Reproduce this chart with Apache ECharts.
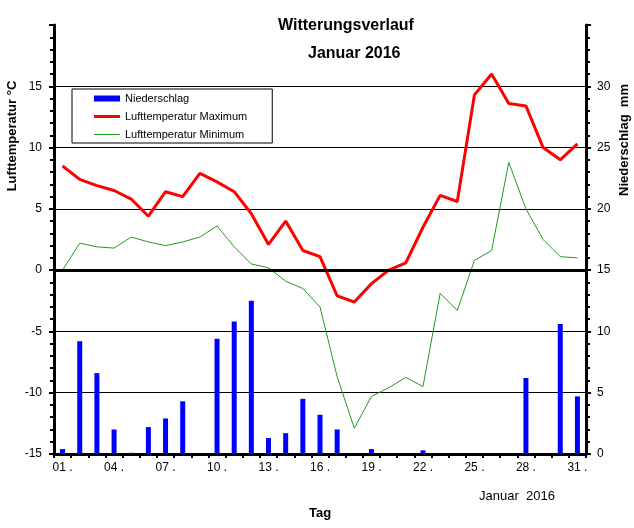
<!DOCTYPE html>
<html>
<head>
<meta charset="utf-8">
<script src="https://cdn.jsdelivr.net/npm/echarts@6/dist/echarts.min.js"></script>
<style>
  html, body { margin: 0; padding: 0; background: #fff; }
  #chart { width: 634px; height: 528px; }
</style>
</head>
<body>
<div id="chart"></div>
<script>
// Tage im Januar 2016
var days = ['01','02','03','04','05','06','07','08','09','10','11','12','13','14','15','16',
            '17','18','19','20','21','22','23','24','25','26','27','28','29','30','31'];

// Niederschlag in mm (rechte Achse)
var niederschlag = [0.4, 9.2, 6.6, 2.0, 0.1, 2.2, 2.9, 4.3, 0, 9.4, 10.8, 12.5, 1.3, 1.7, 4.5, 3.2,
                    2.0, 0, 0.4, 0, 0, 0.3, 0, 0, 0, 0, 0, 6.2, 0, 10.6, 4.7];

// Lufttemperatur in °C (linke Achse)
var tempMax = [8.5, 7.4, 6.9, 6.5, 5.8, 4.4, 6.4, 6.0, 7.9, 7.2, 6.4, 4.6, 2.1, 4.0, 1.6, 1.1,
               -2.1, -2.6, -1.1, 0.0, 0.6, 3.5, 6.1, 5.6, 14.3, 16.0, 13.6, 13.4, 10.0, 9.0, 10.3];
var tempMin = [0.0, 2.2, 1.9, 1.8, 2.7, 2.3, 2.0, 2.3, 2.7, 3.6, 1.9, 0.5, 0.2, -0.9, -1.5, -3.0,
               -8.7, -12.9, -10.3, -9.6, -8.75, -9.5, -1.9, -3.3, 0.8, 1.6, 8.8, 5.0, 2.5, 1.1, 1.0];

var chart = echarts.init(document.getElementById('chart'));

var txtFont = '"Liberation Sans", Arial, sans-serif';

var option = {
  animation: false,
  textStyle: { fontFamily: txtFont },
  grid: { left: 54, right: 48, top: 25, bottom: 74 },
  legend: {
    orient: 'vertical',
    left: 72,
    top: 89,
    padding: [4, 25, 3, 22],
    itemWidth: 26,
    itemHeight: 14,
    itemGap: 7,
    borderColor: '#000',
    borderWidth: 1,
    textStyle: { fontSize: 11, color: '#000', fontFamily: txtFont },
    data: [
      { name: 'Niederschlag', icon: 'path://M0,0 L26,0 L26,6 L0,6 Z' },
      { name: 'Lufttemperatur Maximum', icon: 'path://M0,0 L26,0 L26,3 L0,3 Z' },
      { name: 'Lufttemperatur Minimum', icon: 'path://M0,0 L26,0 L26,1 L0,1 Z' }
    ]
  },
  xAxis: {
    type: 'category',
    data: days,
    boundaryGap: true,
    axisLine: { onZero: false, lineStyle: { color: '#000', width: 3 } },
    axisTick: { show: true, interval: 0, length: 4, lineStyle: { color: '#000', width: 2 } },
    axisLabel: {
      interval: 2,
      color: '#000',
      fontSize: 12,
      margin: 8,
      formatter: function (v) { return v + ' .'; }
    },
    splitLine: { show: false }
  },
  yAxis: [
    {
      type: 'value',
      min: -15,
      max: 20,
      interval: 5,
      axisLine: { show: true, lineStyle: { color: '#000', width: 3 } },
      axisTick: { show: true, length: 5, lineStyle: { color: '#000', width: 2 } },
      minorTick: { show: true, splitNumber: 5, length: 4, lineStyle: { color: '#000', width: 2 } },
      axisLabel: { color: '#000', fontSize: 12, margin: 12, showMaxLabel: false },
      splitLine: { show: true, showMaxLine: false, lineStyle: { color: '#000', width: 1 } }
    },
    {
      type: 'value',
      min: 0,
      max: 35,
      interval: 5,
      position: 'right',
      axisLine: { show: true, lineStyle: { color: '#000', width: 3 } },
      axisTick: { show: true, length: 5, lineStyle: { color: '#000', width: 2 } },
      minorTick: { show: true, splitNumber: 5, length: 4, lineStyle: { color: '#000', width: 2 } },
      axisLabel: { color: '#000', fontSize: 12, margin: 11, showMaxLabel: false },
      splitLine: { show: false }
    }
  ],
  series: [
    {
      name: 'Niederschlag',
      type: 'bar',
      yAxisIndex: 1,
      data: niederschlag,
      barWidth: 5,
      itemStyle: { color: '#0000ff' },
      z: 1
    },
    {
      name: 'Lufttemperatur Maximum',
      type: 'line',
      yAxisIndex: 0,
      data: tempMax,
      symbol: 'none',
      lineStyle: { color: '#ff0000', width: 3 },
      itemStyle: { color: '#ff0000' },
      z: 4,
      markLine: {
        silent: true,
        symbol: 'none',
        label: { show: false },
        lineStyle: { color: '#000', width: 3, type: 'solid' },
        data: [{ yAxis: 0 }]
      }
    },
    {
      name: 'Lufttemperatur Minimum',
      type: 'line',
      yAxisIndex: 0,
      data: tempMin,
      symbol: 'none',
      lineStyle: { color: '#1e9a1e', width: 1 },
      itemStyle: { color: '#1e9a1e' },
      z: 3
    }
  ],
  graphic: [
    { type: 'text', left: 278, top: 18, style: { text: 'Witterungsverlauf', font: 'bold 16px ' + txtFont, fill: '#000' } },
    { type: 'text', left: 308, top: 46, style: { text: 'Januar 2016', font: 'bold 16px ' + txtFont, fill: '#000' } },
    {
      type: 'text', x: 12, y: 136, rotation: Math.PI / 2,
      style: { text: 'Lufttemperatur °C', font: 'bold 13px ' + txtFont, fill: '#000', align: 'center', verticalAlign: 'middle' }
    },
    {
      type: 'text', x: 624, y: 140, rotation: Math.PI / 2,
      style: { text: 'Niederschlag  mm', font: 'bold 13px ' + txtFont, fill: '#000', align: 'center', verticalAlign: 'middle' }
    },
    { type: 'text', x: 320, y: 513, style: { text: 'Tag', font: 'bold 13px ' + txtFont, fill: '#000', align: 'center', verticalAlign: 'middle' } },
    { type: 'text', x: 517, y: 496, style: { text: 'Januar  2016', font: '13px ' + txtFont, fill: '#000', align: 'center', verticalAlign: 'middle' } }
  ]
};

chart.setOption(option);
</script>
</body>
</html>
